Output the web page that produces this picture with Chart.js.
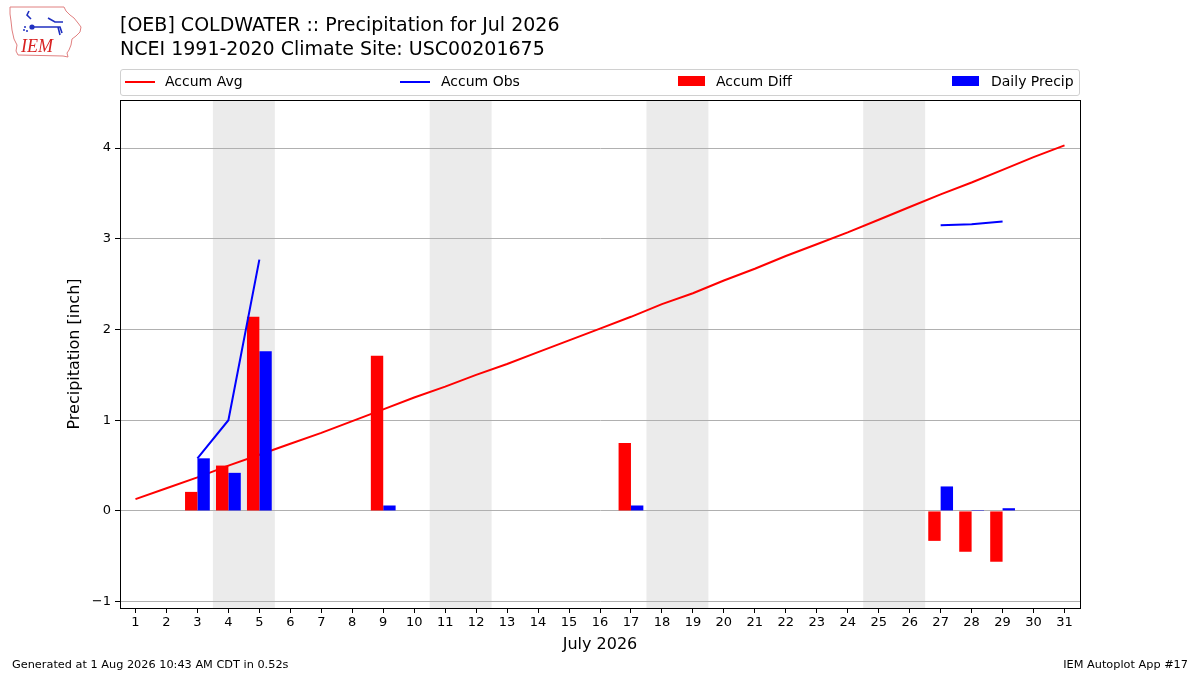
<!DOCTYPE html>
<html>
<head>
<meta charset="utf-8">
<script src="https://cdn.jsdelivr.net/npm/chart.js@4"></script>
<style>
  html, body { margin:0; padding:0; background:#fff; }
  body { width:1200px; height:675px; position:relative; overflow:hidden; font-family:"DejaVu Sans", sans-serif; }
  #wrap { position:absolute; left:0; top:0; width:1200px; height:675px; }
  .title { position:absolute; left:120px; font-size:19px; color:#000; white-space:nowrap; }
  #legend { position:absolute; left:120px; top:69px; width:958px; height:25px; border:1px solid #d0d0d0; border-radius:3px; box-sizing:content-box; font-size:14px; }
  .li { position:absolute; top:0; height:25px; }
  .sw-line { position:absolute; top:11px; width:30px; height:2px; }
  .sw-rect { position:absolute; top:6px; width:27px; height:10px; }
  .lt { position:absolute; top:3px; white-space:nowrap; }
  .foot { position:absolute; top:658px; font-size:11.3px; white-space:nowrap; }
</style>
</head>
<body>
<div id="wrap"><canvas id="c" width="1200" height="675"></canvas></div>
<svg style="position:absolute;left:8px;top:5px" width="76" height="56" viewBox="0 0 76 56">
  <polygon points="2,2 56,2 58,6 62,10 66,13 70,18 73,22 72,27 68,31 64,34 63,40 61,45 59,48 60,52 55,51 10,50 8,46 9,40 6,34 4,25 3,16 2,9" fill="#fff" stroke="#e08080" stroke-width="1"/>
  <text x="13" y="47" font-family="Liberation Serif, serif" font-style="italic" font-size="18" fill="#d82020">IEM</text>
  <path d="M21,6 L19,10 L23,14 M23,22 L52,22 L54,28 M50,22 L52,30 M40,13 L47,17 L55,17" stroke="#2030c0" stroke-width="1.6" fill="none"/>
  <circle cx="24" cy="22" r="2.6" fill="#2030c0"/>
  <circle cx="16" cy="25" r="1" fill="#2030c0"/><circle cx="19" cy="26" r="1" fill="#2030c0"/><circle cx="17" cy="22" r="1" fill="#2030c0"/>
</svg>
<div class="title" style="top:13px">[OEB] COLDWATER :: Precipitation for Jul 2026</div>
<div class="title" style="top:37px">NCEI 1991-2020 Climate Site: USC00201675</div>
<div id="legend">
  <div class="li" style="left:4px"><div class="sw-line" style="left:0;background:#ff0000"></div><div class="lt" style="left:40px">Accum Avg</div></div>
  <div class="li" style="left:279px"><div class="sw-line" style="left:0;background:#0000ff"></div><div class="lt" style="left:41px">Accum Obs</div></div>
  <div class="li" style="left:557px"><div class="sw-rect" style="left:0;background:#ff0000"></div><div class="lt" style="left:38px">Accum Diff</div></div>
  <div class="li" style="left:831px"><div class="sw-rect" style="left:0;background:#0000ff"></div><div class="lt" style="left:39px">Daily Precip</div></div>
</div>
<div class="foot" style="left:12px">Generated at 1 Aug 2026 10:43 AM CDT in 0.52s</div>
<div class="foot" style="right:12px">IEM Autoplot App #17</div>
<script>
// ---- data ----
const days = ["1","2","3","4","5","6","7","8","9","10","11","12","13","14","15","16","17","18","19","20","21","22","23","24","25","26","27","28","29","30","31"];
const accumAvg = [0.13,0.25,0.37,0.50,0.62,0.74,0.86,0.99,1.12,1.25,1.37,1.50,1.62,1.75,1.88,2.01,2.14,2.28,2.40,2.54,2.67,2.81,2.94,3.07,3.21,3.35,3.49,3.62,3.76,3.90,4.03];
const accumObs = [null,null,0.58,1.00,2.77,null,null,null,null,null,null,null,null,null,null,null,null,null,null,null,null,null,null,null,null,null,3.15,3.16,3.19,null,null];
const accumDiff = [null,null,0.21,0.50,2.14,null,null,null,1.71,null,null,null,null,null,null,null,0.75,null,null,null,null,null,null,null,null,null,-0.33,-0.45,-0.56,null,null];
const dailyPrecip = [null,null,0.58,0.42,1.76,null,null,null,0.06,null,null,null,null,null,null,null,0.06,null,null,null,null,null,null,null,null,null,0.27,0.01,0.03,null,null];
const weekendStarts = [4,11,18,25]; // Saturday day numbers (two-day spans)
const yTicks = [-1,0,1,2,3,4];
const yMin = -1.07, yMax = 4.53;

const shadePlugin = {
  id:'shade',
  beforeDraw(chart){
    const {ctx, chartArea:a, scales:{x}} = chart;
    ctx.save();
    ctx.fillStyle = '#ebebeb';
    const half = (x.getPixelForValue(1) - x.getPixelForValue(0))/2;
    weekendStarts.forEach(d=>{
      const x0 = x.getPixelForValue(d-1) - half;
      const x1 = x.getPixelForValue(d) + half;
      ctx.fillRect(x0, a.top, x1-x0, a.bottom-a.top);
    });
    ctx.restore();
  },
  afterDraw(chart){
    const {ctx, chartArea:a} = chart;
    ctx.save();
    ctx.strokeStyle = '#000'; ctx.lineWidth = 1;
    ctx.strokeRect(Math.round(a.left)+0.5, Math.round(a.top)+0.5, Math.round(a.right-a.left), Math.round(a.bottom-a.top));
    ctx.restore();
  }
};

const font = {family:'"DejaVu Sans", sans-serif'};
new Chart(document.getElementById('c'), {
  type:'bar',
  data:{
    labels: days,
    datasets:[
      {type:'line', label:'Accum Avg', data:accumAvg, borderColor:'#ff0000', borderWidth:2, pointRadius:0, order:3, tension:0},
      {type:'line', label:'Accum Obs', data:accumObs, borderColor:'#0000ff', borderWidth:2, pointRadius:0, order:1, spanGaps:false, tension:0},
      {type:'bar', label:'Accum Diff', data:accumDiff, backgroundColor:'#ff0000', borderWidth:0, order:2, barPercentage:1.0, categoryPercentage:0.8},
      {type:'bar', label:'Daily Precip', data:dailyPrecip, backgroundColor:'#0000ff', borderWidth:0, order:2, barPercentage:1.0, categoryPercentage:0.8}
    ]
  },
  options:{
    responsive:false, animation:false, devicePixelRatio:1,
    layout:{padding:{top:100, right:120, left:0, bottom:0}},
    plugins:{legend:{display:false}, tooltip:{enabled:false}},
    scales:{
      x:{
        offset:true,
        grid:{offset:false, drawOnChartArea:false, drawTicks:true, tickLength:5, tickColor:'#000'},
        border:{color:'#000'},
        ticks:{color:'#000', font:{...font, size:13}, padding:2, maxRotation:0, autoSkip:false},
        title:{display:true, text:'July 2026', color:'#000', font:{...font, size:16}, padding:{top:0,bottom:21}},
        afterFit(s){ s.height = 67; }
      },
      y:{
        min:yMin, max:yMax,
        afterBuildTicks(s){ s.ticks = yTicks.map(v=>({value:v})); },
        grid:{color:'#b0b0b0', lineWidth:1, tickColor:'#000', tickLength:5},
        border:{color:'#000'},
        ticks:{color:'#000', font:{...font, size:13}, padding:4, callback:(v)=> (v<0 ? '\u2212'+Math.abs(v) : String(v))},
        title:{display:true, text:'Precipitation [inch]', color:'#000', font:{...font, size:16}, padding:{top:65,bottom:0}},
        afterFit(s){ s.width = 120; }
      }
    }
  },
  plugins:[shadePlugin]
});
</script>
</body>
</html>
